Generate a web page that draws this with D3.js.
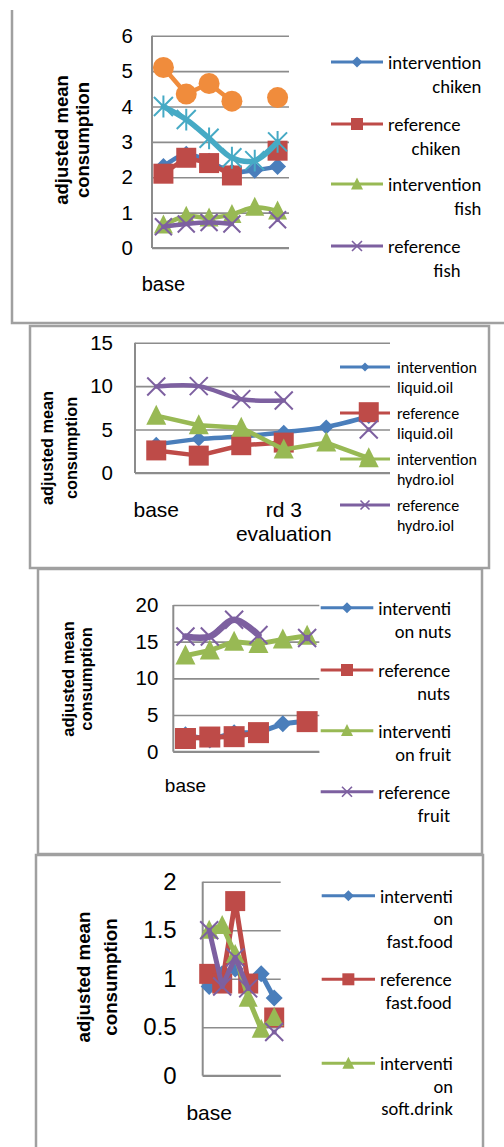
<!DOCTYPE html>
<html><head><meta charset="utf-8">
<script src="https://cdn.jsdelivr.net/npm/d3@7/dist/d3.min.js"></script>
<style>body{margin:0;background:#fff}svg{display:block}</style>
</head><body>
<svg id="c" width="504" height="1147"></svg>
<script>
// ---------- DATA ----------
const categories = ["base", "rd 1 evaluation", "rd 2 evaluation", "rd 3 evaluation", "rd 4 evaluation", "rd 5 evaluation"];

// panel 1 : chiken / fish
const p1Ticks = [0, 1, 2, 3, 4, 5, 6];
const p1XLabels = ["base", "", "", "", "", ""];
const p1InterventionChiken = [2.3, 2.65, 2.45, 2.15, 2.2, 2.3];
const p1ReferenceChiken    = [2.1, 2.55, 2.4, 2.05, null, 2.75];
const p1InterventionFish   = [0.65, 0.9, 0.85, 0.95, 1.15, 1.05];
const p1ReferenceFish      = [0.6, 0.68, 0.72, 0.68, null, 0.8];
const p1Series5            = [4.0, 3.63, 3.1, 2.55, 2.47, 3.0];
const p1Series6            = [5.1, 4.35, 4.65, 4.15, null, 4.25];

// panel 2 : oils
const p2Ticks = [0, 5, 10, 15];
const p2XLabels = ["base", "", "", "rd 3\nevaluation", "", ""];
const p2InterventionLiquidOil = [3.3, 3.9, 4.2, 4.7, 5.3, 6.5];
const p2ReferenceLiquidOil    = [2.6, 2.0, 3.2, 3.5, null, 7.0];
const p2InterventionHydroOil  = [6.6, 5.5, 5.2, 2.7, 3.5, 1.7];
const p2ReferenceHydroOil     = [9.95, 10.0, 8.5, 8.35, null, 5.0];

// panel 3 : nuts / fruit
const p3Ticks = [0, 5, 10, 15, 20];
const p3XLabels = ["base", "", "", "", "", ""];
const p3InterventionNuts  = [2.3, 1.6, 2.6, 2.6, 3.8, 4.2];
const p3ReferenceNuts     = [1.8, 2.0, 2.05, 2.6, null, 4.1];
const p3InterventionFruit = [13.1, 13.8, 15.0, 14.7, 15.3, 15.8];
const p3ReferenceFruit    = [15.7, 15.7, 18.0, 15.9, null, 15.5];

// panel 4 : fast food / soft drink
const p4Ticks = [0, 0.5, 1, 1.5, 2];
const p4XLabels = ["base", "", "", "", "", ""];
const p4InterventionFastFood  = [0.92, 1.05, 1.1, 0.95, 1.05, 0.8];
const p4ReferenceFastFood     = [1.05, 0.95, 1.8, 0.95, null, 0.6];
const p4InterventionSoftDrink = [1.5, 1.55, 1.25, 0.8, 0.48, 0.6];
const p4ReferenceSoftDrink    = [1.5, 0.92, 1.22, 0.9, null, 0.45];

// ---------- STYLE ----------
const C = {blue:"#4A7EBB", red:"#BE4B48", green:"#98B954", purple:"#7D60A0", teal:"#46AAC5", orange:"#F08C3C"};
const GRID = "#8C8C8C", BORDER = "#A0A0A0";
const ARIAL = "'Liberation Sans', Arial, sans-serif";
const CALIBRI = "Carlito, Calibri, Lato, sans-serif";

const svg = d3.select("#c");
svg.append("rect").attr("width", 504).attr("height", 1147).attr("fill", "#fff");

// panel frames
const frames = svg.append("g").attr("fill", "none").attr("stroke", BORDER).attr("stroke-width", 2.5);
frames.append("path").attr("d", "M12,10V323H504");
frames.append("rect").attr("x", 30).attr("y", 326).attr("width", 459).attr("height", 242);
frames.append("rect").attr("x", 38).attr("y", 569).attr("width", 444).attr("height", 285);
frames.append("rect").attr("x", 36).attr("y", 855).attr("width", 447).attr("height", 300);

function markerD(type, s) {
  const h = s / 2;
  switch (type) {
    case "diamond": return `M0,${-h}L${h},0L0,${h}L${-h},0Z`;
    case "square": return `M${-h},${-h}H${h}V${h}H${-h}Z`;
    case "triangle": return `M0,${-s*0.55}L${h},${s*0.45}L${-h},${s*0.45}Z`;
    case "x": return `M${-h},${-h}L${h},${h}M${h},${-h}L${-h},${h}`;
    case "star": return `M${-h},${-h}L${h},${h}M${h},${-h}L${-h},${h}M0,${-h*1.15}V${h*1.15}`;
  }
}
function drawMarker(g, type, s, color, sw) {
  if (type === "circle") return g.append("circle").attr("r", s / 2).attr("fill", color);
  const p = g.append("path").attr("d", markerD(type, s));
  if (type === "x" || type === "star") p.attr("fill", "none").attr("stroke", color).attr("stroke-width", sw || 2);
  else p.attr("fill", color);
  return p;
}

function drawPanel(cfg) {
  const g = svg.append("g");
  const x = d3.scaleBand().domain(categories).range([cfg.x0, cfg.x1]);
  const cx = c => x(c) + x.bandwidth() / 2;
  const y = d3.scaleLinear().domain([0, d3.max(cfg.ticks)]).range([cfg.yb, cfg.yt]);

  // gridlines + tick labels
  const ax = g.append("g").attr("transform", `translate(${cfg.x0},0)`)
    .call(d3.axisLeft(y).tickValues(cfg.ticks).tickSize(-(cfg.x1 - cfg.x0)).tickPadding(cfg.tickPad).tickFormat(d3.format("")));
  ax.select(".domain").remove();
  ax.selectAll(".tick line").attr("stroke", GRID).attr("stroke-width", 1.6);
  ax.selectAll(".tick text").attr("fill", "#000").attr("font-family", ARIAL).attr("font-size", cfg.tickFont);
  // axis lines
  g.append("line").attr("x1", cfg.x0).attr("x2", cfg.x0).attr("y1", cfg.yt).attr("y2", cfg.yb).attr("stroke", GRID).attr("stroke-width", 2);
  g.append("line").attr("x1", cfg.x0).attr("x2", cfg.x1).attr("y1", cfg.yb).attr("y2", cfg.yb).attr("stroke", GRID).attr("stroke-width", 2);

  // category labels
  const xl = g.append("g").attr("font-family", ARIAL).attr("font-size", cfg.xFont).attr("text-anchor", "middle");
  categories.forEach((c, i) => {
    const lab = cfg.xLabels[i];
    if (!lab) return;
    const t = xl.append("text").attr("x", cx(c)).attr("y", cfg.xLabY).attr("dominant-baseline", "central");
    lab.split("\n").forEach((ln, k) => t.append("tspan").attr("x", cx(c)).attr("dy", k ? cfg.xLineH : 0).text(ln));
  });

  // y title
  const yt = g.append("text").attr("transform", `translate(${cfg.titleX},${cfg.titleY}) rotate(-90)`)
    .attr("font-family", ARIAL).attr("font-weight", "bold").attr("font-size", cfg.titleFont)
    .attr("text-anchor", "middle").attr("dominant-baseline", "central");
  yt.append("tspan").attr("x", 0).attr("y", -cfg.titleGap / 2).text("adjusted mean");
  yt.append("tspan").attr("x", 0).attr("y", cfg.titleGap / 2).text("consumption");

  // legend
  const L = cfg.legend;
  cfg.series.filter(s => s.legend).forEach((s, i) => {
    const ly = L.ys[i];
    if (ly === undefined) return;
    const lg = g.append("g");
    lg.append("line").attr("x1", L.lx1).attr("x2", L.lx2).attr("y1", ly).attr("y2", ly).attr("stroke", s.color).attr("stroke-width", 3);
    drawMarker(lg.append("g").attr("transform", `translate(${(L.lx1 + L.lx2) / 2},${ly})`), s.marker, L.ms[s.marker], s.color, 1.6);
    const lines = s.name.split("\n");
    const t = lg.append("text").attr("font-family", CALIBRI).attr("font-size", L.font).attr("fill", "#000").attr("dominant-baseline", "central");
    const spans = lines.map((ln, k) => t.append("tspan").attr("x", L.tx).attr("y", ly + k * L.lh).text(ln));
    if (L.align === "right") {
      const w = d3.max(spans, sp => sp.node().getComputedTextLength());
      t.attr("text-anchor", "end");
      spans.forEach(sp => sp.attr("x", L.tx + w));
    }
  });

  // series
  cfg.series.forEach(s => {
    const pts = s.values.map((v, i) => ({c: categories[i], v}));
    const line = d3.line().defined(d => d.v !== null).x(d => cx(d.c)).y(d => y(d.v))
      .curve(s.smooth ? d3.curveCatmullRom.alpha(0.5) : d3.curveLinear);
    g.append("path").datum(pts).attr("d", line).attr("fill", "none").attr("stroke", s.color)
      .attr("stroke-width", s.lw || cfg.lw).attr("stroke-linejoin", "round").attr("stroke-linecap", "round");
    pts.filter(d => d.v !== null).forEach(d => {
      drawMarker(g.append("g").attr("transform", `translate(${cx(d.c)},${y(d.v)})`), s.marker, cfg.ms[s.marker], s.color, 2);
    });
  });
}

drawPanel({
  x0: 152, x1: 289, yt: 35.7, yb: 248, ticks: p1Ticks, tickPad: 19, tickFont: 20.5,
  xLabels: p1XLabels, xLabY: 284, xFont: 20, xLineH: 24,
  titleX: 71.5, titleY: 140, titleGap: 21, titleFont: 18.5, lw: 4.5,
  ms: {diamond: 17, square: 20, triangle: 19, x: 17, star: 19, circle: 21},
  legend: {lx1: 331, lx2: 383, tx: 388, ys: [62, 124, 184, 246], lh: 24, font: 18.7, align: "right",
           ms: {diamond: 11, square: 12, triangle: 12, x: 10}},
  series: [
    {name: "intervention\nchiken", values: p1InterventionChiken, color: C.blue, marker: "diamond", smooth: true, legend: true},
    {name: "reference\nchiken", values: p1ReferenceChiken, color: C.red, marker: "square", smooth: false, legend: true},
    {name: "intervention\nfish", values: p1InterventionFish, color: C.green, marker: "triangle", smooth: true, legend: true},
    {name: "reference\nfish", values: p1ReferenceFish, color: C.purple, marker: "x", smooth: true, legend: true},
    {name: "series 5", values: p1Series5, color: C.teal, marker: "star", smooth: true, legend: false, lw: 5.5},
    {name: "series 6", values: p1Series6, color: C.orange, marker: "circle", smooth: false, legend: false}
  ]
});

drawPanel({
  x0: 135, x1: 390, yt: 342.7, yb: 473, ticks: p2Ticks, tickPad: 22, tickFont: 20.5,
  xLabels: p2XLabels, xLabY: 509, xFont: 21, xLineH: 24,
  titleX: 59, titleY: 448, titleGap: 24, titleFont: 16.3, lw: 4.5,
  ms: {diamond: 15, square: 20, triangle: 20, x: 18},
  legend: {lx1: 340, lx2: 390, tx: 397, ys: [367, 413, 459, 505], lh: 20, font: 16, align: "left",
           ms: {diamond: 9, square: 10, triangle: 10, x: 9}},
  series: [
    {name: "intervention\nliquid.oil", values: p2InterventionLiquidOil, color: C.blue, marker: "diamond", smooth: true, legend: true},
    {name: "reference\nliquid.oil", values: p2ReferenceLiquidOil, color: C.red, marker: "square", smooth: false, legend: true},
    {name: "intervention\nhydro.iol", values: p2InterventionHydroOil, color: C.green, marker: "triangle", smooth: false, legend: true},
    {name: "reference\nhydro.iol", values: p2ReferenceHydroOil, color: C.purple, marker: "x", smooth: true, legend: true}
  ]
});

drawPanel({
  x0: 173.3, x1: 319.3, yt: 605, yb: 751.7, ticks: p3Ticks, tickPad: 15, tickFont: 20.5,
  xLabels: p3XLabels, xLabY: 785, xFont: 19, xLineH: 24,
  titleX: 77, titleY: 679, titleGap: 17.5, titleFont: 16.5, lw: 5,
  ms: {diamond: 17, square: 21, triangle: 20, x: 18},
  legend: {lx1: 320.7, lx2: 373.3, tx: 378.3, ys: [607.7, 670, 730.7, 791.7], lh: 23, font: 18.5, align: "right",
           ms: {diamond: 11, square: 12, triangle: 12, x: 10}},
  series: [
    {name: "interventi\non nuts", values: p3InterventionNuts, color: C.blue, marker: "diamond", smooth: false, legend: true},
    {name: "reference\nnuts", values: p3ReferenceNuts, color: C.red, marker: "square", smooth: false, legend: true},
    {name: "interventi\non fruit", values: p3InterventionFruit, color: C.green, marker: "triangle", smooth: false, legend: true},
    {name: "reference\nfruit", values: p3ReferenceFruit, color: C.purple, marker: "x", smooth: true, legend: true, lw: 6.5}
  ]
});

drawPanel({
  x0: 202.7, x1: 280.7, yt: 881.7, yb: 1075.7, ticks: p4Ticks, tickPad: 26, tickFont: 24,
  xLabels: p4XLabels, xLabY: 1111.7, xFont: 21, xLineH: 24,
  titleX: 96.7, titleY: 977, titleGap: 26.7, titleFont: 18.7, lw: 5,
  ms: {diamond: 17, square: 20, triangle: 19, x: 18},
  legend: {lx1: 321.7, lx2: 375, tx: 380, ys: [895.7, 979.3, 1063.3], lh: 22.5, font: 18.5, align: "right",
           ms: {diamond: 11, square: 12, triangle: 12, x: 10}},
  series: [
    {name: "interventi\non\nfast.food", values: p4InterventionFastFood, color: C.blue, marker: "diamond", smooth: false, legend: true},
    {name: "reference\nfast.food", values: p4ReferenceFastFood, color: C.red, marker: "square", smooth: false, legend: true},
    {name: "interventi\non\nsoft.drink", values: p4InterventionSoftDrink, color: C.green, marker: "triangle", smooth: false, legend: true},
    {name: "reference\nsoft.drink", values: p4ReferenceSoftDrink, color: C.purple, marker: "x", smooth: false, legend: true}
  ]
});
</script>
</body></html>
